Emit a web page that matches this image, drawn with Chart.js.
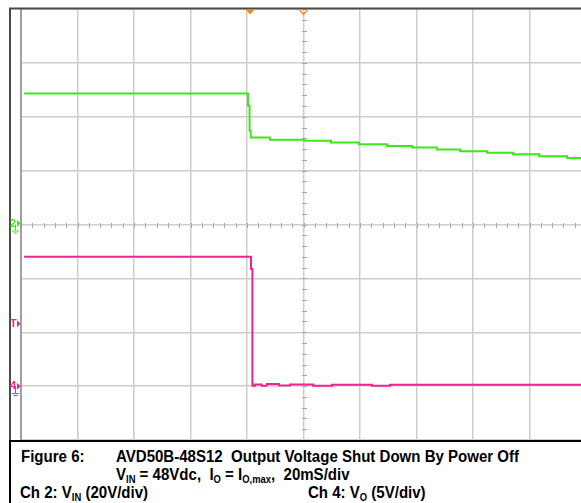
<!DOCTYPE html>
<html>
<head>
<meta charset="utf-8">
<script src="https://cdn.jsdelivr.net/npm/chart.js@4/dist/chart.umd.min.js"></script>
<style>
  html, body { margin: 0; padding: 0; background: #fff; }
  body { width: 581px; height: 503px; overflow: hidden; position: relative; }
  #c { position: absolute; left: 0; top: 0; }
  #cap { position: absolute; left: 9px; top: 440px; width: 572px; height: 63px;
         border-top: 2px solid #000; border-left: 2px solid #000; box-sizing: border-box; background: #fff; }
  .t { position: absolute; white-space: pre; font-family: "Liberation Sans", Arial, sans-serif;
       font-weight: bold; font-size: 16px; line-height: 16px; color: #000;
       transform: scaleX(0.94); transform-origin: 0 0; }
  .t sub { font-size: 10px; vertical-align: -3px; line-height: 0; }
</style>
</head>
<body>
<canvas id="c" width="581" height="441"></canvas>
<div id="cap"></div>
<div class="t" style="left:21px; top:449px;">Figure 6:</div>
<div class="t" style="left:116px; top:449px;">AVD50B-48S12  Output Voltage Shut Down By Power Off</div>
<div class="t" style="left:116px; top:467px;">V<sub>IN</sub> = 48Vdc,  I<sub>O</sub> = I<sub>O,max</sub>,  20mS/div</div>
<div class="t" style="left:20px; top:485px;">Ch 2: V<sub>IN</sub> (20V/div)</div>
<div class="t" style="left:308px; top:485px;">Ch 4: V<sub>O</sub> (5V/div)</div>
<script>
// ---- data ----
// Ch 2 (input voltage, V) - stepped trace, time in ms from left edge of screen
const ch2Time  = [1.1, 80.0, 80.35, 80.9, 81.3, 88.1, 100.2, 109.7, 119.6, 129.6, 138.4, 147.3, 155.4, 165.0, 174.2, 183.4, 193.3, 198.2];
const ch2Volts = [48.6, 48.6, 44.2, 34.9, 32.3, 31.5, 31.1, 30.4, 29.8, 29.1, 28.6, 27.8, 27.2, 26.6, 26.1, 25.3, 24.7, 24.7];
// Ch 4 (output voltage, V)
const ch4Time  = [1.1, 81.1, 81.4, 81.9, 82.8, 85.2, 87.0, 91.3, 95.2, 103.4, 110.1, 124.2, 130.6, 198.2];
const ch4Volts = [12.0, 12.0, 10.9, 0.03, 0.16, 0.03, 0.19, 0.05, 0.14, 0.03, 0.12, 0.03, 0.12, 0.12];
// screen settings
const timeRange = [0, 198.2];        // ms across visible screen (20 ms/div)
const timeDiv = 20;
const ch2Range = [-80, 80];           // 20 V/div, ground at centre
const ch2Div = 20;
const ch4Range = [-5, 35];            // 5 V/div, ground one div above bottom
const triggerTime = 81.1;
const centreTime = 100;
const triggerLevelCh4 = 5.5;

const GREEN = '#3fe61c';
const PINK = '#f0238f';
const ORANGE = '#f08a1e';

function pts(t, v) { return t.map((x, i) => ({ x: x, y: v[i] })); }

const scopePlugin = {
  id: 'scope',
  beforeDraw(chart) {
    const ctx = chart.ctx;
    ctx.save();
    ctx.fillStyle = '#fff';
    ctx.fillRect(0, 0, chart.width, chart.height);
    ctx.restore();
  },
  beforeDatasetsDraw(chart) {
    const ctx = chart.ctx, a = chart.chartArea;
    const xs = chart.scales.x, ys = chart.scales.y;
    ctx.save();
    // minor ticks on centre lines
    ctx.strokeStyle = '#a8a8a8';
    ctx.lineWidth = 1;
    const cx = Math.round(xs.getPixelForValue(centreTime)) + 0.5;
    for (let v = ch2Range[0]; v <= ch2Range[1]; v += ch2Div / 5) {
      const y = Math.round(ys.getPixelForValue(v)) + 0.5;
      ctx.beginPath(); ctx.moveTo(cx - 2.5, y); ctx.lineTo(cx + 2.5, y); ctx.stroke();
    }
    const cy = Math.round(ys.getPixelForValue(0)) + 0.5;
    for (let t = timeRange[0]; t <= timeRange[1]; t += timeDiv / 5) {
      const x = Math.round(xs.getPixelForValue(t)) + 0.5;
      ctx.beginPath(); ctx.moveTo(x, cy - 2.5); ctx.lineTo(x, cy + 2.5); ctx.stroke();
    }
    // left edge of graticule
    ctx.strokeStyle = '#8c8c8c';
    ctx.lineWidth = 1.5;
    ctx.beginPath(); ctx.moveTo(a.left, a.top); ctx.lineTo(a.left, a.bottom); ctx.stroke();
    ctx.restore();
  },
  afterDatasetsDraw(chart) {
    const ctx = chart.ctx;
    const xs = chart.scales.x, ys = chart.scales.y, y2 = chart.scales.y2;
    ctx.save();
    // outer frame: top and left
    ctx.strokeStyle = '#4b4b42';
    ctx.lineWidth = 2;
    ctx.beginPath(); ctx.moveTo(9, 8.5); ctx.lineTo(chart.width, 8.5); ctx.stroke();
    ctx.beginPath(); ctx.moveTo(10, 8); ctx.lineTo(10, chart.height); ctx.stroke();
    // trigger markers on top
    const tx = xs.getPixelForValue(triggerTime);
    ctx.fillStyle = ORANGE;
    ctx.beginPath(); ctx.moveTo(tx - 4, 10); ctx.lineTo(tx + 4, 10); ctx.lineTo(tx, 14.5); ctx.closePath(); ctx.fill();
    const mx = xs.getPixelForValue(centreTime);
    ctx.strokeStyle = ORANGE; ctx.lineWidth = 1.2;
    ctx.beginPath(); ctx.moveTo(mx - 4, 10); ctx.lineTo(mx, 14.5); ctx.lineTo(mx + 4, 10); ctx.stroke();

    // channel markers on the left
    function marker(label, color, y, ground) {
      ctx.fillStyle = color; ctx.strokeStyle = color;
      ctx.font = 'bold 11px "Liberation Sans", Arial, sans-serif';
      ctx.textBaseline = 'middle'; ctx.textAlign = 'left';
      ctx.fillText(label, 10, y);
      ctx.beginPath(); ctx.moveTo(17, y - 3.5); ctx.lineTo(20.5, y); ctx.lineTo(17, y + 3.5); ctx.closePath(); ctx.fill();
      if (ground) {
        ctx.lineWidth = 1;
        ctx.beginPath(); ctx.moveTo(15.5, y + 1); ctx.lineTo(15.5, y + 7); ctx.stroke();
        ctx.beginPath(); ctx.moveTo(12, y + 7.5); ctx.lineTo(19, y + 7.5); ctx.stroke();
        ctx.beginPath(); ctx.moveTo(13.5, y + 9.5); ctx.lineTo(17.5, y + 9.5); ctx.stroke();
      }
    }
    marker('2', GREEN, ys.getPixelForValue(0) - 1, true);
    marker('T', PINK, y2.getPixelForValue(triggerLevelCh4) - 3, false);
    marker('4', PINK, y2.getPixelForValue(0), true);
    ctx.restore();
  }
};

new Chart(document.getElementById('c'), {
  type: 'line',
  data: {
    datasets: [
      { label: 'Ch 2: VIN', data: pts(ch2Time, ch2Volts), yAxisID: 'y', borderColor: GREEN,
        borderWidth: 2, pointRadius: 0, stepped: true, fill: false },
      { label: 'Ch 4: VO', data: pts(ch4Time, ch4Volts), yAxisID: 'y2', borderColor: PINK,
        borderWidth: 2, pointRadius: 0, stepped: true, fill: false }
    ]
  },
  options: {
    responsive: false,
    devicePixelRatio: 1,
    animation: false,
    events: [],
    layout: { padding: { left: 21, top: 9, right: 0, bottom: 1 } },
    plugins: { legend: { display: false }, tooltip: { enabled: false } },
    scales: {
      x: {
        type: 'linear', min: timeRange[0], max: timeRange[1],
        ticks: { display: false, stepSize: timeDiv, includeBounds: false },
        grid: { color: '#cdcdcd', lineWidth: 1.5, drawTicks: false },
        border: { display: false },
        afterFit(s) { s.height = 0; }
      },
      y: {
        type: 'linear', position: 'left', min: ch2Range[0], max: ch2Range[1],
        ticks: { display: false, stepSize: ch2Div },
        grid: { color: '#cdcdcd', lineWidth: 1.5, drawTicks: false },
        border: { display: false },
        afterFit(s) { s.width = 0; }
      },
      y2: {
        type: 'linear', position: 'right', min: ch4Range[0], max: ch4Range[1],
        display: false
      }
    }
  },
  plugins: [scopePlugin]
});
</script>
</body>
</html>
